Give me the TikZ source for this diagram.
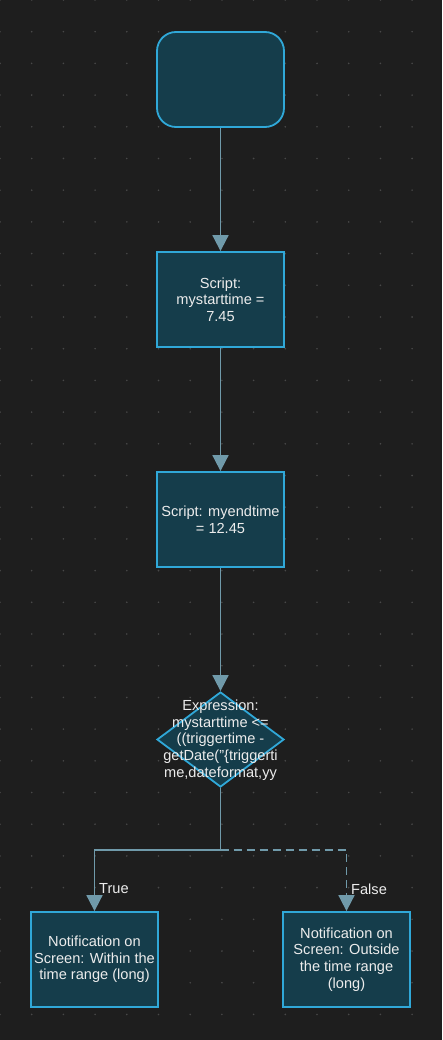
\documentclass[tikz,border=0pt]{standalone}
\usepackage{fontspec}
\setmainfont{Liberation Sans}
\usetikzlibrary{arrows.meta,shapes.geometric}

\definecolor{canvas}{RGB}{30,30,30}
\definecolor{griddot}{RGB}{72,72,72}
\definecolor{boxfill}{RGB}{21,61,75}
\definecolor{boxline}{RGB}{48,168,216}
\definecolor{wire}{RGB}{112,154,170}
\definecolor{ink}{RGB}{236,236,236}

\begin{document}
\begin{tikzpicture}[
  x=1pt, y=-1pt,
  font=\fontsize{14.6}{16.7}\selectfont,
  process/.style={
    draw=boxline,
    fill=boxfill,
    line width=1.8pt,
    text=ink,
    align=center,
    minimum width=127pt,
    minimum height=95pt,
    inner sep=0pt
  },
  terminal/.style={
    process,
    rounded corners=19pt
  },
  decision/.style={
    draw=boxline,
    fill=boxfill,
    line width=1.8pt,
    diamond,
    minimum width=127pt,
    minimum height=95pt,
    inner sep=0pt
  },
  caption/.style={text=ink, align=center, inner sep=0pt},
  flow/.style={-{Triangle[width=16pt,length=16pt]}, draw=wire, line width=1.8pt},
  tag/.style={text=ink, anchor=west, inner sep=0pt}
]

% Canvas with dot grid
\useasboundingbox (0,0) rectangle (442,1040);
\fill[canvas] (0,0) rectangle (442,1040);
\begin{scope}
  \clip (0,0) rectangle (442,1040);
  \foreach \i in {0,...,14}
    \foreach \j in {0,...,33}
      \fill[griddot] (\i*31.7,\j*31.7) circle (0.9pt);
\end{scope}

% Main flow
\node[terminal] (start) at (220.5, 79.5) {};

\node[process] (setstart) at (220.5, 299.5) {%
  Script:\\
  mystarttime =\\
  7.45
};

\node[process] (setend) at (220.5, 519.5) {%
  Script: myendtime\\
  = 12.45
};

\node[decision] (check) at (220.5, 739.5) {};
\node[caption] (checktext) at (220.5, 740) {%
  Expression:\\
  mystarttime <=\\
  ((triggertime -\\
  getDate("\{triggerti\\
  me,dateformat,yy
};

% Branch targets
\node[process] (inside) at (94.5, 959.5) {%
  Notification on\\
  Screen: Within the\\
  time range (long)
};

\node[process] (outside) at (346.5, 959.5) {%
  Notification on\\
  Screen: Outside\\
  the time range\\
  (long)
};

\coordinate (split) at (220.5, 850);

% Flow arrows
\draw[flow] (start) -- (setstart);
\draw[flow] (setstart) -- (setend);
\draw[flow] (setend) -- (check);
\draw[draw=wire, line width=1.8pt] (check.south) -- (split);
\draw[flow] (split) -| (inside.north);
\draw[flow, dashed, dash pattern=on 8pt off 5pt] (split) -| (outside.north);

% Branch labels
\node[tag] (truelabel) at (99, 889) {True};
\node[tag] (falselabel) at (351, 889) {False};

\end{tikzpicture}
\end{document}
